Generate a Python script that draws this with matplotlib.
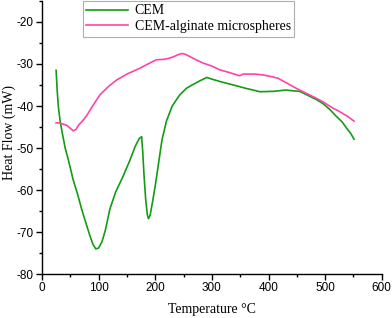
import numpy as np
import matplotlib
matplotlib.use("Agg")
import matplotlib.pyplot as plt
from matplotlib.ticker import MultipleLocator

plt.rcParams["axes.unicode_minus"] = False

# CEM (green)
cem_t = [25, 27, 29, 32, 36, 41, 47, 55, 63, 70, 78, 85, 90, 95, 100, 106, 112, 120,
         130, 143, 155, 165, 172, 176, 178, 180, 183, 186, 188, 191, 195, 200, 206,
         212, 220, 230, 243, 255, 265, 279, 291, 300, 315, 338, 360, 385, 410, 430,
         445, 455, 470, 485, 496, 508, 520, 530, 538, 545, 551]
cem_hf = [-31.5, -36.5, -40.2, -43.5, -46.5, -50.0, -53.0, -57.5, -61.0, -64.5, -68.0,
          -71.0, -72.9, -74.0, -73.8, -72.3, -69.5, -64.5, -60.5, -56.8, -53.0, -49.5,
          -47.7, -47.3, -51.0, -56.0, -62.0, -65.8, -66.8, -66.0, -63.0, -59.0, -53.5,
          -48.0, -43.5, -40.0, -37.4, -35.8, -35.0, -34.0, -33.2, -33.6, -34.2, -35.0,
          -35.8, -36.6, -36.5, -36.2, -36.4, -36.5, -37.5, -38.5, -39.4, -40.8, -42.5,
          -43.8, -45.3, -46.5, -47.9]

# CEM-alginate microspheres (pink)
alg_t = [25, 30, 37, 44, 50, 55, 60, 65, 72, 79, 88, 102, 117, 132, 150, 173, 190,
         202, 215, 223, 232, 240, 248, 255, 262, 272, 285, 300, 314, 330, 349, 355,
         365, 376, 390, 405, 417, 425, 432, 437, 445, 455, 470, 485, 496, 510, 525,
         540, 551]
alg_hf = [-44.0, -44.0, -44.3, -44.6, -45.3, -45.9, -45.6, -44.5, -43.5, -42.3, -40.3,
          -37.4, -35.4, -33.8, -32.4, -31.0, -29.8, -29.0, -28.9, -28.7, -28.3, -27.8,
          -27.5, -27.8, -28.3, -29.0, -29.8, -30.5, -31.4, -32.0, -32.8, -32.4, -32.4,
          -32.4, -32.6, -33.0, -33.4, -34.0, -34.5, -34.9, -35.5, -36.2, -37.2, -38.2,
          -39.0, -40.2, -41.3, -42.5, -43.6]

labels = ["CEM", "CEM-alginate microspheres"]

fig = plt.figure(figsize=(3.92, 3.18), dpi=100)
ax = fig.add_axes([0.107, 0.138, 0.867, 0.859])

ax.plot(cem_t, cem_hf, color="#139c13", lw=1.2, label=labels[0])
ax.plot(alg_t, alg_hf, color="#ff44a8", lw=1.2, label=labels[1])

ax.set_xlim(0, 600)
ax.set_ylim(-80, -15)
ax.xaxis.set_major_locator(MultipleLocator(100))
ax.xaxis.set_minor_locator(MultipleLocator(50))
ax.yaxis.set_minor_locator(MultipleLocator(5))
ax.set_yticks(np.arange(-80, -19, 10))
for s in ["top", "right"]:
    ax.spines[s].set_visible(False)
for s in ["left", "bottom"]:
    ax.spines[s].set_linewidth(1.0)
ax.tick_params(which="major", direction="out", length=4, width=1.0,
               labelsize=8.5, labelfontfamily="Liberation Sans", pad=2)
ax.tick_params(which="minor", direction="out", length=2.5, width=1.0)

serif = "Liberation Serif"
ax.set_xlabel("Temperature °C", fontsize=10, family=serif)
ax.xaxis.set_label_coords(0.5, -0.105)
ax.set_ylabel("Heat Flow (mW)", fontsize=10, family=serif)
ax.yaxis.set_label_coords(-0.076, 0.52)

leg = ax.legend(loc="upper left", bbox_to_anchor=(0.12, 1.0), frameon=True,
                fancybox=False, prop={"family": serif, "size": 10},
                handlelength=3.0, borderpad=0.25, labelspacing=0.2,
                handletextpad=0.5, borderaxespad=0.0)
leg.get_frame().set_edgecolor("#999999")
leg.get_frame().set_linewidth(0.8)

fig.savefig("out.png", dpi=100)
